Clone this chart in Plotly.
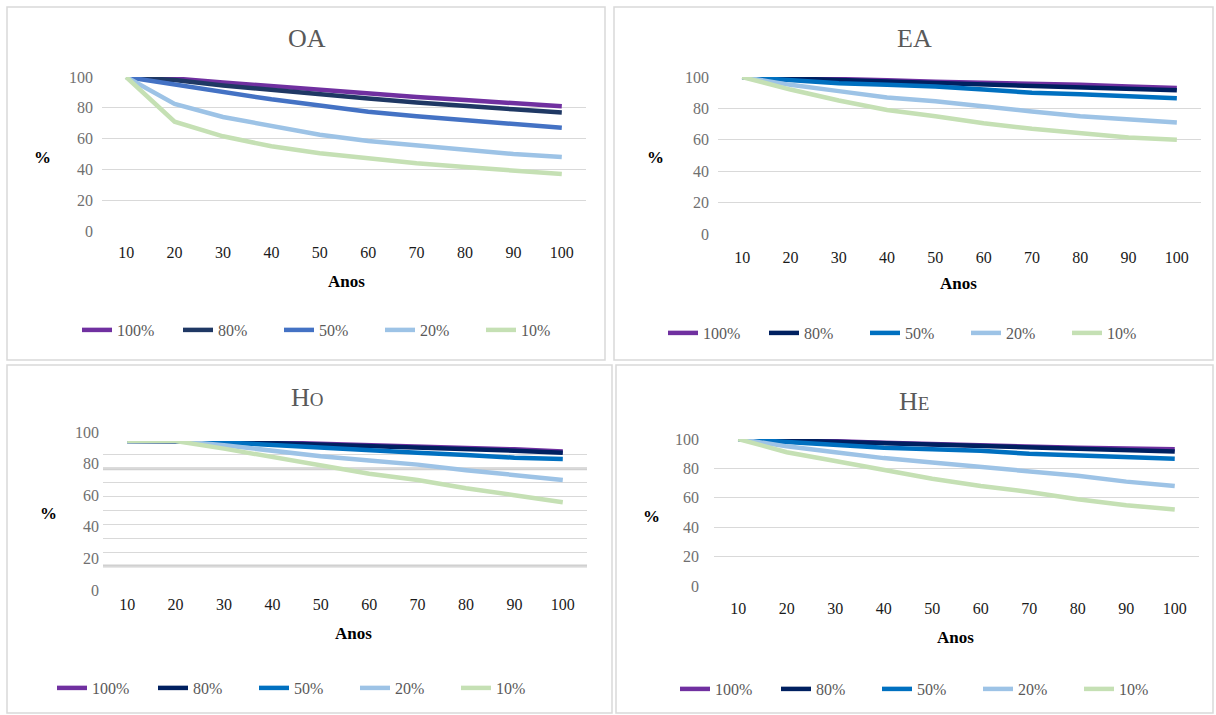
import plotly.graph_objects as go

W, H = 1216, 715
def fx(px): return px / W
def fy(py): return 1 - py / H

anos = ["10", "20", "30", "40", "50", "60", "70", "80", "90", "100"]
series_names = ["100%", "80%", "50%", "20%", "10%"]

# OA
oa_100 = [100, 99, 96.5, 94, 91.5, 89, 87, 85, 83, 81]
oa_80 = [100, 98, 94.5, 91.5, 89, 86, 83.5, 81, 79, 77]
oa_50 = [100, 95, 90, 85.5, 81.5, 77.5, 74.5, 72, 70, 67]
oa_20 = [100, 82.5, 74, 68, 62.5, 58.5, 55.5, 53, 50, 48]
oa_10 = [100, 71, 61.5, 55, 50.5, 47, 44, 41.5, 39, 37]
# EA
ea_100 = [100, 99.5, 99, 98, 97, 96.5, 95.5, 95, 94, 93]
ea_80 = [100, 99, 98, 97, 96, 95, 94, 93.5, 92.5, 91.5]
ea_50 = [100, 98, 96, 95, 94, 92, 90, 89, 87.5, 86.5]
ea_20 = [100, 95, 91, 87, 84.5, 81, 78, 75, 73, 71]
ea_10 = [100, 92, 85, 79, 75, 70.5, 67, 64, 61.5, 60]
# Ho
ho_100 = [100, 100, 99.5, 99, 98, 97, 96, 95.5, 94, 92.5]
ho_80 = [100, 100, 99.5, 98.5, 97.5, 96, 95, 94, 93, 91.5]
ho_50 = [100, 100, 99, 97, 95, 93, 91.5, 90, 88, 87]
ho_20 = [100, 100, 97, 93, 89, 86, 83, 79, 75.5, 72]
ho_10 = [100, 100, 94.5, 88.5, 82.5, 76.5, 72, 66, 61, 56]
# He
he_100 = [100, 99.5, 98.5, 97.5, 96.5, 95.5, 95, 94, 93.5, 93]
he_80 = [100, 99, 98, 97, 96, 95, 94, 93, 92, 91.5]
he_50 = [100, 98, 96, 94, 93, 92, 90, 89, 88, 86.5]
he_20 = [100, 95, 91, 87, 84, 81, 78, 75, 71, 68]
he_10 = [100, 91, 85, 79, 73, 68, 64, 59, 55, 52]

colors_oa = ["#7030A0", "#1F3864", "#4472C4", "#9DC3E6", "#C5E0B4"]
colors_other = ["#7030A0", "#002060", "#0070C0", "#9DC3E6", "#C5E0B4"]

panels = [
    ("x", "y", "legend", [oa_100, oa_80, oa_50, oa_20, oa_10], colors_oa),
    ("x2", "y2", "legend2", [ea_100, ea_80, ea_50, ea_20, ea_10], colors_other),
    ("x3", "y3", "legend3", [ho_100, ho_80, ho_50, ho_20, ho_10], colors_other),
    ("x4", "y4", "legend4", [he_100, he_80, he_50, he_20, he_10], colors_other),
]

SERIF = "Liberation Serif, Times New Roman, serif"
fig = go.Figure()
# empty helper trace so the Ho tick-label axis is drawn (added first -> drawn below)
fig.add_trace(go.Scatter(x=[], y=[], xaxis="x5", yaxis="y5", showlegend=False,
                         hoverinfo="skip"))
for xa, ya, lg, data, cols in panels:
    for name, vals, c in zip(series_names, data, cols):
        fig.add_trace(go.Scatter(x=anos, y=vals, name=name, mode="lines",
                                 line=dict(color=c, width=4.5),
                                 xaxis=xa, yaxis=ya, legend=lg))

GRID = "#d9d9d9"
TICKY = dict(family=SERIF, size=16, color="#707070")
TICKX = dict(family=SERIF, size=16, color="#1a1a1a")

def xax(l, r, anchor, standoff):
    return dict(domain=[fx(l), fx(r)], anchor=anchor, type="category",
                range=[-0.5, 9.5], showgrid=False, zeroline=False, showline=False,
                ticks="", tickfont=TICKX, ticklabelstandoff=standoff, fixedrange=True)

def yax(b, t, anchor, standoff, **kw):
    d = dict(domain=[fy(b), fy(t)], anchor=anchor, range=[0, 100], dtick=20,
             showgrid=True, gridcolor=GRID, gridwidth=1, zeroline=False,
             showline=False, ticks="", tickfont=TICKY, ticklabelstandoff=standoff)
    d.update(kw)
    return d

fig.update_layout(
    width=W, height=H, margin=dict(l=0, r=0, t=0, b=0, autoexpand=False),
    paper_bgcolor="white", plot_bgcolor="rgba(0,0,0,0)",
    xaxis=xax(102, 586, "y", 10),
    yaxis=yax(231, 77, "x", 8),
    xaxis2=xax(718, 1201, "y2", 12),
    yaxis2=yax(234, 77, "x2", 8),
    xaxis3=xax(103, 587, "y3", 13),
    yaxis3=yax(580, 441, "x3", 0, dtick=10, showticklabels=False),
    xaxis4=xax(714, 1199, "y4", 11),
    yaxis4=yax(586, 439, "x4", 14),
    xaxis5=dict(domain=[fx(103), fx(587)], anchor="y5", visible=False, range=[0, 1]),
    yaxis5=dict(domain=[fy(590), fy(432)], anchor="x5", range=[0, 100], dtick=20,
                showgrid=False, zeroline=False, showline=False, ticks="",
                tickfont=TICKY, ticklabelstandoff=3),
    showlegend=True,
)

LEGFONT = dict(family=SERIF, size=16, color="#595959")
def leg(px, py):
    return dict(orientation="h", x=fx(px), y=fy(py), xanchor="left", yanchor="middle",
                font=LEGFONT, entrywidth=56, entrywidthmode="pixels",
                bgcolor="rgba(0,0,0,0)", itemclick=False, itemdoubleclick=False)

fig.update_layout(legend=leg(77, 330), legend2=leg(663, 333),
                  legend3=leg(52, 688), legend4=leg(675, 689))

# panel borders
for (x0, y0, x1, y1) in [(7, 7, 605, 360), (614, 7, 1213, 360),
                         (7, 365, 612, 713), (616, 365, 1213, 713)]:
    fig.add_shape(type="rect", xref="paper", yref="paper",
                  x0=fx(x0), x1=fx(x1), y0=fy(y1), y1=fy(y0),
                  line=dict(color="#d9d9d9", width=1.5), fillcolor="rgba(0,0,0,0)")

# thicker grid lines in Ho panel
for yv in [80, 10]:
    fig.add_shape(type="line", xref="x3 domain", yref="y3", x0=0, x1=1, y0=yv, y1=yv,
                  line=dict(color="#d0d0d0", width=3), layer="below")

TITLEFONT = dict(family=SERIF, size=26, color="#595959")
ann = [
    (307, 38, "OA", TITLEFONT),
    (914, 38, "EA", TITLEFONT),
    (307, 397, "H<span style='font-size:19px'>O</span>", TITLEFONT),
    (914, 401, "H<span style='font-size:19px'>E</span>", TITLEFONT),
]
BOLD = dict(family=SERIF, size=17, color="#000000")
for (px, py) in [(42, 157), (655, 157), (48, 513), (651, 516)]:
    ann.append((px, py, "<b>%</b>", BOLD))
for (px, py) in [(346, 281), (958, 283), (353, 633), (955, 637)]:
    ann.append((px, py, "<b>Anos</b>", BOLD))
for px, py, t, f in ann:
    fig.add_annotation(x=fx(px), y=fy(py), xref="paper", yref="paper", text=t,
                       showarrow=False, font=f, xanchor="center", yanchor="middle")

fig.write_html("out.html", config={"displayModeBar": False},
               post_script="document.body.style.margin='0';document.body.style.padding='0';")
